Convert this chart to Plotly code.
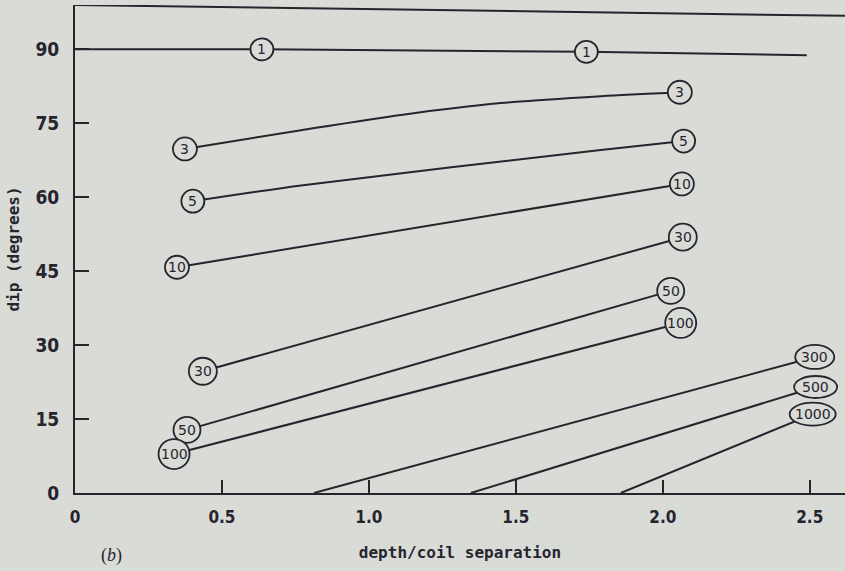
import plotly.graph_objects as go

BG = '#d9dbd6'
INK = '#26252e'
TICK_FONT = 'Liberation Sans Narrow, DejaVu Sans Condensed, sans-serif'

# curves (depth/coil separation, dip in degrees)
c1_x = [0.0, 0.64, 1.74, 2.49]
c1_y = [90.0, 90.0, 89.5, 88.8]
c3_x = [0.374, 0.769, 1.109, 1.449, 1.789, 2.058]
c3_y = [69.8, 73.6, 76.7, 79.1, 80.5, 81.3]
c5_x = [0.401, 0.769, 1.789, 2.071]
c5_y = [59.2, 62.4, 69.6, 71.4]
c10_x = [0.347, 2.065]
c10_y = [45.8, 62.7]
c30_x = [0.435, 2.068]
c30_y = [24.7, 51.9]
c50_x = [0.381, 2.027]
c50_y = [12.8, 41.0]
c100_x = [0.337, 2.061]
c100_y = [7.9, 34.5]
c300_x = [0.813, 2.517]
c300_y = [0.0, 27.6]
c500_x = [1.347, 2.52]
c500_y = [0.0, 21.5]
c1000_x = [1.857, 2.51]
c1000_y = [0.0, 16.0]

# the (slightly skewed) top frame line of the scanned figure
frame_x = [0.0, 2.62]
frame_y = [99.0, 96.8]

# circled labels: text and where they sit
label_text = ['1', '1', '3', '3', '5', '5', '10', '10', '30', '30',
              '50', '50', '100', '100', '300', '500', '1000']
label_x = [0.636, 1.74, 0.374, 2.058, 0.401, 2.071, 0.347, 2.065, 0.435, 2.068,
           0.381, 2.027, 0.337, 2.061, 2.517, 2.52, 2.51]
label_y = [90.0, 89.5, 69.8, 81.3, 59.2, 71.4, 45.8, 62.7, 24.7, 51.9,
           12.8, 41.0, 7.9, 34.5, 27.6, 21.5, 16.0]

x_ticks = [0, 0.5, 1.0, 1.5, 2.0, 2.5]
x_ticktext = ['0', '0.5', '1.0', '1.5', '2.0', '2.5']
y_ticks = [0, 15, 30, 45, 60, 75, 90]

# label outline sizes in px (w, h)
outline = {'1': (23, 22), '3': (24, 23), '5': (23, 23), '10': (24, 23),
           '30': (28, 27), '50': (27, 26), '100': (31, 30),
           '300': (39, 24), '500': (43, 22), '1000': (46, 23)}

curves = [
    (c1_x, c1_y, 'linear'), (c3_x, c3_y, 'spline'), (c5_x, c5_y, 'spline'),
    (c10_x, c10_y, 'linear'), (c30_x, c30_y, 'linear'), (c50_x, c50_y, 'linear'),
    (c100_x, c100_y, 'linear'), (c300_x, c300_y, 'linear'),
    (c500_x, c500_y, 'linear'), (c1000_x, c1000_y, 'linear'),
]

fig = go.Figure()

for cx, cy, shp in curves:
    fig.add_trace(go.Scatter(
        x=cx, y=cy, mode='lines',
        line=dict(color=INK, width=2, shape=shp, smoothing=0.8),
        showlegend=False, hoverinfo='skip', cliponaxis=False,
    ))

fig.add_trace(go.Scatter(
    x=frame_x, y=frame_y, mode='lines',
    line=dict(color=INK, width=2),
    showlegend=False, hoverinfo='skip', cliponaxis=False,
))

for txt, lx, ly in zip(label_text, label_x, label_y):
    w, h = outline[txt]
    fig.add_shape(
        type='circle', xref='x', yref='y',
        xsizemode='pixel', ysizemode='pixel',
        xanchor=lx, yanchor=ly,
        x0=-w / 2, x1=w / 2, y0=-h / 2, y1=h / 2,
        fillcolor=BG, line=dict(color=INK, width=1.8),
        layer='above',
    )
    fig.add_annotation(
        x=lx, y=ly, xref='x', yref='y', text=txt, showarrow=False,
        font=dict(family='DejaVu Sans', size=14, color=INK),
    )

fig.add_annotation(
    x=0.048, y=-0.129, xref='paper', yref='paper', text='(<i>b</i>)',
    xanchor='center', yanchor='middle', showarrow=False,
    font=dict(family='Liberation Serif', size=18, color=INK),
)

fig.update_xaxes(
    range=[0, 2.62],
    tickvals=x_ticks, ticktext=x_ticktext,
    ticks='inside', ticklen=13, tickwidth=1.5, tickcolor=INK,
    ticklabelstandoff=8,
    showline=True, linecolor=INK, linewidth=2,
    showgrid=False, zeroline=False,
    tickfont=dict(family=TICK_FONT, size=17, color=INK, weight='bold'),
    title=dict(text='depth/coil separation', standoff=20,
               font=dict(family='DejaVu Sans Mono', size=16, color=INK, weight='bold')),
)
fig.update_yaxes(
    range=[0, 99],
    tickvals=y_ticks,
    ticks='inside', ticklen=14, tickwidth=1.5, tickcolor=INK,
    ticklabelstandoff=10,
    showline=True, linecolor=INK, linewidth=2,
    showgrid=False, zeroline=False,
    tickfont=dict(family=TICK_FONT, size=19, color=INK, weight='bold'),
    title=dict(text='dip (degrees)', standoff=12,
               font=dict(family='DejaVu Sans Mono', size=16, color=INK, weight='bold')),
)

fig.update_layout(
    width=845, height=571,
    margin=dict(l=75, r=0, t=5, b=78),
    paper_bgcolor=BG, plot_bgcolor=BG,
    showlegend=False,
)

# page has a default body margin; drop it so the figure fills the window
fig.write_html('out.html', config={'displayModeBar': False},
               post_script="document.body.style.margin='0';")
